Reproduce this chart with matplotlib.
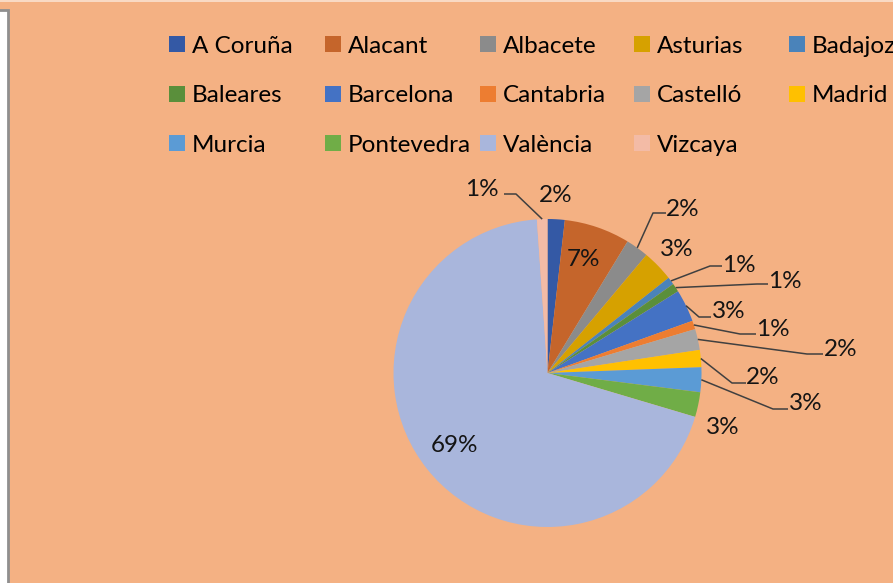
import matplotlib
matplotlib.use("Agg")
import matplotlib.pyplot as plt
from matplotlib.patches import Rectangle
from matplotlib.lines import Line2D
import numpy as np

# ---- data ----
provinces = ["A Coruña", "Alacant", "Albacete", "Asturias", "Badajoz", "Baleares",
             "Barcelona", "Cantabria", "Castelló", "Madrid", "Murcia", "Pontevedra",
             "València", "Vizcaya"]
shares = [1.8, 6.9, 2.4, 3.3, 0.8, 0.9, 3.4, 0.9, 2.2, 1.8, 2.6, 2.6, 69.3, 1.1]
colors = ["#3459A5", "#C5652B", "#8B8B8B", "#D6A100", "#4A83BA", "#5A8F3B",
          "#4472C4", "#ED7D31", "#A5A5A5", "#FFC000", "#5B9BD5", "#70AD47",
          "#A9B6DC", "#F3BBA6"]

W, H = 893, 583
BG = "#F4B183"
FONT = "Lato"
plt.rcParams["font.family"] = [FONT, "DejaVu Sans"]

fig = plt.figure(figsize=(W / 100, H / 100), dpi=100, facecolor=BG)

# left white panel with grey border (neighbouring element)
fig.add_artist(Rectangle((-10 / W, -10 / H), 18 / W, (H - 10 + 10) / H,
                         transform=fig.transFigure, facecolor="white",
                         edgecolor="#8F8F8F", linewidth=2.0))
fig.add_artist(Line2D([0, 1], [1 - 0.5 / H, 1 - 0.5 / H], transform=fig.transFigure,
                      color="#FBE3D2", linewidth=1.2))

# pie axes: centre (547.5, 373) px, radius 154 px
cx, cy, R = 547.5, 373.0, 154.0
ax = fig.add_axes([(cx - R) / W, (H - cy - R) / H, 2 * R / W, 2 * R / H])
ax.set_facecolor("none")
wedges, _ = ax.pie(shares, colors=colors, startangle=90, counterclock=False,
                   radius=1.0, wedgeprops=dict(linewidth=0))
ax.set_xlim(-1, 1)
ax.set_ylim(-1, 1)
ax.set_aspect("equal")
ax.axis("off")


def px2d(px, py):
    return (px - cx) / R, (cy - py) / R


# label layout (pixel positions of text centres; optional leader segment)
layout = {
    "A Coruña": ((556, 195), None),
    "Alacant": ((583, 259), None),
    "Albacete": ((683, 210), (666, 653, 213)),
    "Asturias": ((677, 250), None),
    "Badajoz": ((739, 265), (722, 710, 266)),
    "Baleares": ((785, 281), (768, 757, 284)),
    "Barcelona": ((729, 312), (711, 699, 317)),
    "Cantabria": ((773, 329), (756, 740, 334)),
    "Castelló": ((841, 350), (823, 807, 354)),
    "Madrid": ((763, 377), (746, 732, 383)),
    "Murcia": ((806, 403), (788, 773, 409)),
    "Pontevedra": ((723, 427), None),
    "València": ((455, 445), None),
    "Vizcaya": ((482, 189), (504, 516, 194)),
}

total = sum(shares)
for name, val, w in zip(provinces, shares, wedges):
    (tx, ty), seg = layout[name]
    pct = int(100 * val / total + 0.5)
    x, y = px2d(tx, ty)
    ax.text(x, y, f"{pct}%", ha="center", va="center", fontsize=17.5,
            color="#141414", family=[FONT, "DejaVu Sans"], clip_on=False)
    if seg is not None:
        mid = np.deg2rad((w.theta1 + w.theta2) / 2)
        ex, ey = np.cos(mid), np.sin(mid)
        x0, y0 = px2d(seg[0], seg[2])
        x1, y1 = px2d(seg[1], seg[2])
        ax.plot([x0, x1, ex], [y0, y1, ey], color="#404040", lw=1.1,
                solid_capstyle="butt", clip_on=False)

# legend: 5 columns, filled row-wise
col_x = [169, 325, 480, 634, 789]
ncols = 5
for c in range(ncols):
    idx = list(range(c, len(provinces), ncols))
    fig.legend([wedges[i] for i in idx], [provinces[i] for i in idx],
               loc="upper left", bbox_to_anchor=(col_x[c] / W, 1 - 36 / H),
               frameon=False, borderpad=0, borderaxespad=0,
               handlelength=0.64, handleheight=0.64, handletextpad=0.3,
               labelspacing=1.17, fontsize=17.5,
               prop=dict(family=[FONT, "DejaVu Sans"], size=17.5))

fig.savefig("out.png", dpi=100, facecolor=BG)
